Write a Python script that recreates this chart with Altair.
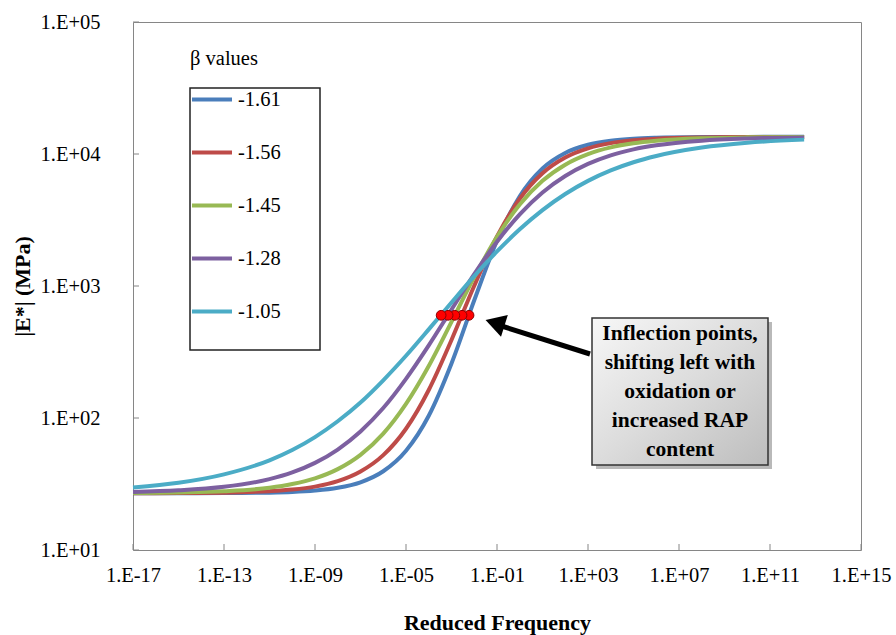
import altair as alt
import pandas as pd

# ---------------- data ----------------
freq = [1e-17, 1e-15, 1e-13, 1e-11, 1e-10, 1e-9, 1e-8, 1e-7, 1e-6, 1e-5,
        1e-4, 1e-3, 1e-2, 1e-1, 1e0, 1e1, 1e2, 1e3, 1e4, 1e5, 1e6, 1e8,
        1e10, 3.16e12]

beta_labels = ["-1.61", "-1.56", "-1.45", "-1.28", "-1.05"]

e_161 = [26.9, 26.9, 27.0, 27.2, 27.5, 28.2, 29.6, 32.6, 39.5, 56.5,
         104, 259, 779, 2200, 4790, 7780, 10190, 11740, 12600, 13050,
         13270, 13440, 13480, 13490]
e_156 = [26.9, 27.0, 27.2, 27.9, 28.7, 30.2, 33.2, 39.3, 52.3, 82.9,
         163, 390, 1005, 2370, 4580, 7150, 9410, 11040, 12090, 12700,
         13060, 13360, 13450, 13480]
e_145 = [27.0, 27.3, 27.9, 29.6, 31.6, 34.9, 41.0, 52.6, 76.2, 128,
         248, 535, 1167, 2356, 4140, 6260, 8300, 9980, 11220, 12060,
         12600, 13160, 13370, 13450]
e_128 = [27.5, 28.3, 30.1, 34.4, 38.7, 45.7, 57.7, 79.1, 119, 198,
         355, 663, 1231, 2163, 3490, 5110, 6810, 8410, 9770, 10840,
         11640, 12620, 13100, 13350]
e_105 = [29.8, 32.3, 37.4, 47.8, 57.2, 71.7, 94.5, 131, 193, 296,
         469, 750, 1188, 1828, 2690, 3760, 4980, 6260, 7510, 8660,
         9660, 11190, 12170, 12850]

series = [e_161, e_156, e_145, e_128, e_105]
colors = ["#4A7EBB", "#BE4B48", "#98B954", "#7D60A0", "#4BACC6"]

infl_freq = [5.9e-3, 2.9e-3, 1.4e-3, 7.1e-4, 3.5e-4]
infl_e = [600, 600, 600, 600, 600]

x_ticks = [1e-17, 1e-13, 1e-9, 1e-5, 1e-1, 1e3, 1e7, 1e11, 1e15]
y_ticks = [1e1, 1e2, 1e3, 1e4, 1e5]

note_lines = ["Inflection points,", "shifting left with", "oxidation or",
              "increased RAP", "content"]

# ---------------- tables ----------------
rows = []
for lab, vals in zip(beta_labels, series):
    for f, e in zip(freq, vals):
        rows.append({"f": f, "E": e, "beta": lab})
df = pd.DataFrame(rows)
dots = pd.DataFrame({"f": infl_freq, "E": infl_e})
xt = pd.DataFrame({"f": x_ticks})
yt = pd.DataFrame({"E": y_ticks})
one = pd.DataFrame({"a": [0]})

W, H = 728, 528
SERIF = "Liberation Serif"
FRAME = "#868686"

xscale = alt.Scale(type="log", domain=[1e-17, 1e15], nice=False)
yscale = alt.Scale(type="log", domain=[10, 1e5], nice=False)

exp = "round(log(datum.value)/LN10)"
x_expr = ("'1.E' + (" + exp + " < 0 ? '-' : '+') + (abs(" + exp +
          ") < 10 ? '0' : '') + abs(" + exp + ")")

x_axis = alt.Axis(values=x_ticks, labelExpr=x_expr, title="Reduced Frequency",
                  ticks=False, domain=False, grid=False, labelFlush=False,
                  labelOverlap=False, labelFont=SERIF, labelFontSize=20.5,
                  labelColor="black", labelPadding=15, titleFont=SERIF,
                  titleFontSize=22, titleFontWeight="bold", titleColor="black",
                  titleX=364, titleY=72, titleBaseline="middle")
y_axis = alt.Axis(values=y_ticks, labelExpr=x_expr, title="|E*| (MPa)",
                  ticks=False, domain=False, grid=False, labelFlush=False,
                  labelOverlap=False, labelFont=SERIF, labelFontSize=20.5,
                  labelColor="black", labelPadding=33, titleFont=SERIF,
                  titleFontSize=22, titleFontWeight="bold", titleColor="black",
                  titleX=-111, titleY=264, titleAngle=270, titleAlign="center",
                  titleBaseline="middle")

legend = alt.Legend(title="β values", orient="none", legendX=57, legendY=27,
                    symbolType="stroke", symbolSize=1600, symbolStrokeWidth=4,
                    clipHeight=20, rowPadding=32, padding=0,
                    labelFont=SERIF, labelFontSize=20.5, labelColor="black",
                    labelOffset=4, titleFont=SERIF, titleFontSize=20.5,
                    titleFontWeight="normal", titleColor="black",
                    titlePadding=20)

X = alt.X("f:Q", scale=xscale, axis=x_axis, title="Reduced Frequency")
Y = alt.Y("E:Q", scale=yscale, axis=y_axis, title="|E*| (MPa)")

legend_box = alt.Chart(one).mark_rect(fillOpacity=0, stroke="#222222",
                                      strokeWidth=1.5).encode(
    x=alt.value(57), x2=alt.value(187), y=alt.value(66), y2=alt.value(328))

lines = alt.Chart(df).mark_line(strokeWidth=4, interpolate="monotone").encode(
    x=X, y=Y,
    color=alt.Color("beta:N", scale=alt.Scale(domain=beta_labels, range=colors),
                    sort=beta_labels, legend=legend),
)

xtick_rules = alt.Chart(xt).mark_rule(color=FRAME).encode(
    x=X, y=alt.value(H), y2=alt.value(H - 6))
ytick_rules = alt.Chart(yt).mark_rule(color=FRAME).encode(
    y=Y, x=alt.value(0), x2=alt.value(6))

dot_layer = alt.Chart(dots).mark_point(filled=True, fill="#FF0000",
                                       stroke="#8B0000", strokeWidth=1,
                                       size=95, opacity=1).encode(x=X, y=Y)

arrow_line = alt.Chart(one).mark_rule(strokeWidth=5, color="black").encode(
    x=alt.value(457), y=alt.value(332), x2=alt.value(362), y2=alt.value(302))
arrow_head = alt.Chart(one).mark_point(shape="triangle-up", filled=True,
                                       size=520, angle=287.5, color="black",
                                       opacity=1).encode(
    x=alt.value(362), y=alt.value(301))

shadow = alt.Chart(one).mark_rect(fill="#7f7f7f", opacity=0.55).encode(
    x=alt.value(463), x2=alt.value(639), y=alt.value(300), y2=alt.value(447))
box = alt.Chart(one).mark_rect(
    fill=alt.Gradient(gradient="linear",
                      stops=[alt.GradientStop(color="#f7f7f7", offset=0),
                             alt.GradientStop(color="#dcdcdc", offset=0.5),
                             alt.GradientStop(color="#bdbdbd", offset=1)],
                      x1=0, y1=0, x2=1, y2=1),
    stroke="#333333", strokeWidth=1.5).encode(
    x=alt.value(459), x2=alt.value(635), y=alt.value(296), y2=alt.value(443))
note = alt.Chart(one).mark_text(font=SERIF, fontSize=21.5, fontWeight="bold",
                                lineHeight=29, align="center",
                                baseline="middle", color="black").encode(
    x=alt.value(547), y=alt.value(312), text=alt.value(note_lines))

chart = alt.layer(
    legend_box, lines, xtick_rules, ytick_rules, dot_layer,
    arrow_line, arrow_head, shadow, box, note
).properties(
    width=W, height=H,
    autosize=alt.AutoSizeParams(type="none"),
    padding={"left": 133, "top": 22, "right": 35, "bottom": 85},
    background="white",
).configure_view(stroke=FRAME, strokeWidth=1)

chart.save("out.html", embed_options={"renderer": "svg", "actions": False})
